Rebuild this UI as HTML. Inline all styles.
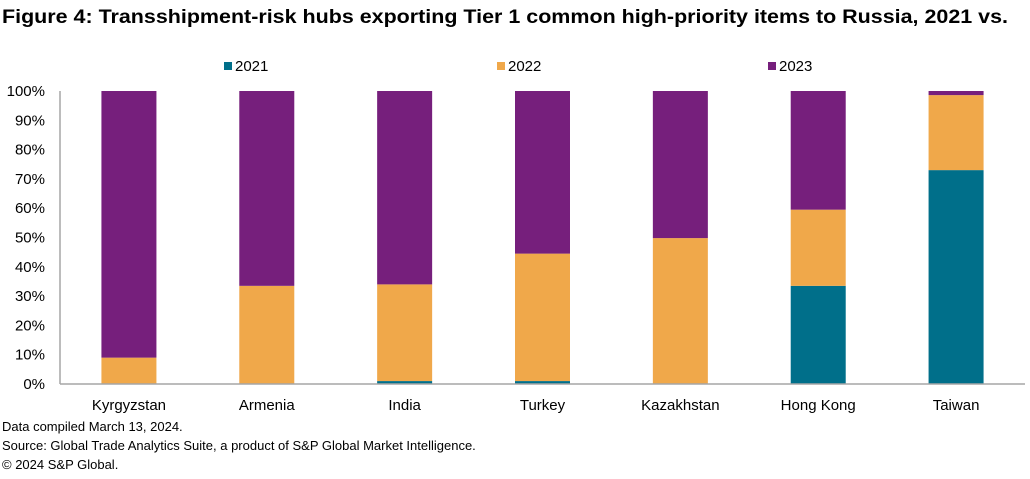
<!DOCTYPE html>
<html><head><meta charset="utf-8"><style>
body{margin:0;background:#fff;width:1030px;height:474px;overflow:hidden;font-family:"Liberation Sans",Arial,sans-serif}
text{font-family:"Liberation Sans",Arial,sans-serif}
</style></head><body>
<svg id="chart" width="1030" height="474">
<text x="2" y="23" font-size="19.5" font-weight="bold" fill="#000" textLength="1006" lengthAdjust="spacingAndGlyphs">Figure 4: Transshipment-risk hubs exporting Tier 1 common high-priority items to Russia, 2021 vs.</text>
<g id="legend"></g>
<g id="yaxis"></g>
<g id="bars"></g>
<g id="xaxis"></g>
<text x="2" y="431" font-size="13" fill="#000">Data compiled March 13, 2024.</text>
<text x="2" y="450" font-size="13" fill="#000">Source: Global Trade Analytics Suite, a product of S&amp;P Global Market Intelligence.</text>
<text x="2" y="469" font-size="13" fill="#000">© 2024 S&amp;P Global.</text>
</svg>
<script>
const categories=["Kyrgyzstan","Armenia","India","Turkey","Kazakhstan","Hong Kong","Taiwan"];
const seriesNames=["2021","2022","2023"];
const v2021=[0,0,1,1,0,33.5,73];
const v2022=[9,33.5,33,43.5,49.8,26,25.6];
const v2023=[91,66.5,66,55.5,50.2,40.5,1.4];
const yTicks=[0,10,20,30,40,50,60,70,80,90,100];
const colors=["#006f8a","#f0a84a","#761f7c"];
const ns="http://www.w3.org/2000/svg";
const X0=60,X1=1025,Y0=384,Y1=91;
const band=(X1-X0)/categories.length,barW=55;
const y=v=>Y0-(v/100)*(Y0-Y1);
const xc=i=>X0+band*(i+0.5);
function mk(t,a,p){const e=document.createElementNS(ns,t);for(const k in a)e.setAttribute(k,a[k]);p.appendChild(e);return e;}
const ya=document.getElementById('yaxis');
yTicks.forEach(t=>{const e=mk('text',{x:45,y:y(t)+5,'font-size':15,'text-anchor':'end',fill:'#000'},ya);e.textContent=t+'%';

});
const axl=mk('line',{x1:X0,y1:Y1,x2:X0,y2:Y0,stroke:'#a6a6a6','stroke-width':1.5},ya);
const xa=document.getElementById('xaxis');
const xl=mk('line',{x1:X0,y1:Y0,x2:X1,y2:Y0,stroke:'#a6a6a6','stroke-width':1.5},xa);
const bg=document.getElementById('bars');
const all=[v2021,v2022,v2023];
categories.forEach((c,i)=>{let acc=0;
all.forEach((s,k)=>{const v=s[i];if(v>0){const r=mk('rect',{x:xc(i)-barW/2,y:y(acc+v),width:barW,height:y(acc)-y(acc+v),fill:colors[k]},bg);

}acc+=v;});
const t=mk('text',{x:xc(i),y:410,'font-size':15,'text-anchor':'middle',fill:'#000'},xa);t.textContent=c;

});
const lg=document.getElementById('legend');
const lx=[224,497,768];
seriesNames.forEach((n,k)=>{const r=mk('rect',{x:lx[k],y:62,width:8,height:8,fill:colors[k]},lg);


const t=mk('text',{x:lx[k]+11,y:71,'font-size':15,fill:'#000'},lg);t.textContent=n;

});
</script>
</body></html>
